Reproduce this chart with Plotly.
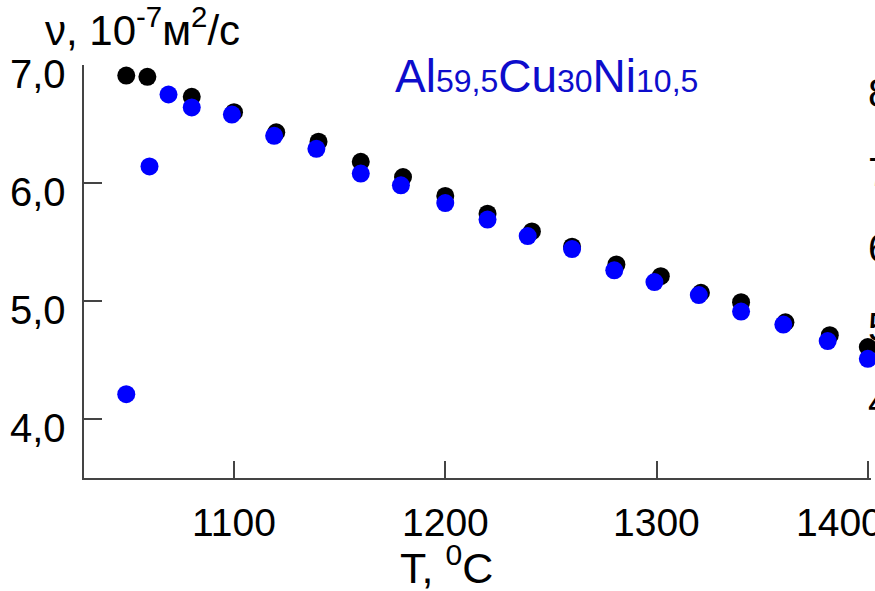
import plotly.graph_objects as go

# Kinematic viscosity of Al59,5Cu30Ni10,5 melt vs temperature (two runs)
t_run1 = [1049, 1059, 1080, 1100, 1120, 1140, 1160, 1180, 1200, 1220,
          1241, 1260, 1281, 1302, 1321, 1340, 1361, 1382, 1400]
v_run1 = [6.91, 6.90, 6.73, 6.60, 6.43, 6.35, 6.18, 6.05, 5.89, 5.74,
          5.59, 5.46, 5.31, 5.21, 5.07, 4.99, 4.82, 4.71, 4.61]

t_run2 = [1049, 1060, 1069, 1080, 1099, 1119, 1139, 1160, 1179, 1200,
          1220, 1239, 1260, 1280, 1299, 1320, 1340, 1360, 1381, 1400]
v_run2 = [4.21, 6.14, 6.75, 6.64, 6.58, 6.40, 6.29, 6.08, 5.98, 5.83,
          5.69, 5.55, 5.44, 5.26, 5.16, 5.05, 4.91, 4.80, 4.66, 4.51]

x_ticks = [1100, 1200, 1300, 1400]
x_ticktext = ["1100", "1200", "1300", "1400"]
y_ticks = [4, 5, 6, 7]
y_ticktext = ["4,0", "5,0", "6,0", "7,0"]
side_labels = ["8,0", "7,0", "6,0", "5,0", "4,0"]

FONT = "Liberation Sans, Arial, sans-serif"
W, H = 875, 591
ML, MR, MT, MB = 84, 4, 65, 113
PW, PH = W - ML - MR, H - MT - MB


def px(x):
    return (x - ML) / PW


def py(y):
    return (H - MB - y) / PH


fig = go.Figure()
fig.add_trace(go.Scatter(
    x=t_run1, y=v_run1, mode="markers", cliponaxis=False,
    marker=dict(size=18, color="#000000", line=dict(width=0)),
    showlegend=False))
fig.add_trace(go.Scatter(
    x=t_run2, y=v_run2, mode="markers", cliponaxis=False,
    marker=dict(size=18, color="#0000FF", line=dict(width=0)),
    showlegend=False))

axis_common = dict(
    showgrid=False, zeroline=False, showline=True, automargin=False,
    linecolor="#444444", linewidth=1.5, showticklabels=False,
    ticks="inside", tickcolor="#444444", tickwidth=1.5,
)

# Tick labels are drawn as annotations on the axis scales: the y labels sit
# a little below their ticks and the last x label is pulled left of its tick
fig.update_xaxes(range=[1029, 1401.5], tickvals=x_ticks, ticklen=17,
                 **axis_common)
fig.update_yaxes(range=[3.5, 7.0], tickvals=y_ticks, ticklen=18,
                 **axis_common)

annotations = [
    dict(x=px(393), y=py(76), xanchor="left", yanchor="middle",
         text=("Al<span style='font-size:32px'>59,5</span>"
               "Cu<span style='font-size:32px'>30</span>"
               "Ni<span style='font-size:32px'>10,5</span>"),
         font=dict(family=FONT, size=46, color="#0D0DCC"),
         xref="paper", yref="paper"),
    dict(x=px(43), y=py(27), xanchor="left", yanchor="middle",
         text="ν, 10<sup>-7</sup>м<sup>2</sup>/с",
         font=dict(family=FONT, size=42, color="#000000"),
         xref="paper", yref="paper"),
    dict(x=px(446), y=py(565), xanchor="center", yanchor="middle",
         text="T, <sup>0</sup>C",
         font=dict(family=FONT, size=43, color="#000000"),
         xref="paper", yref="paper"),
]
for val, lab, shift in zip(x_ticks, x_ticktext, [0, 0, 0, -28]):
    annotations.append(dict(
        x=val, y=py(522), xref="x", yref="paper", xshift=shift,
        xanchor="center", yanchor="middle", text=lab,
        font=dict(family=FONT, size=39, color="#000000")))
for val, lab in zip(y_ticks, y_ticktext):
    annotations.append(dict(
        x=px(68), y=val, xref="paper", yref="y", yshift=-9,
        xanchor="right", yanchor="middle", text=lab,
        font=dict(family=FONT, size=40, color="#000000")))
for lab, yc in zip(side_labels, [93, 172, 248, 327, 402]):
    annotations.append(dict(
        x=px(866), y=py(yc), xref="paper", yref="paper",
        xanchor="left", yanchor="middle", text=lab,
        font=dict(family=FONT, size=40, color="#000000")))

for a in annotations:
    a.update(showarrow=False)

fig.update_layout(
    width=W, height=H,
    margin=dict(l=ML, r=MR, t=MT, b=MB, pad=0, autoexpand=False),
    paper_bgcolor="#FFFFFF", plot_bgcolor="#FFFFFF",
    annotations=annotations,
)

fig.write_html("out.html")
